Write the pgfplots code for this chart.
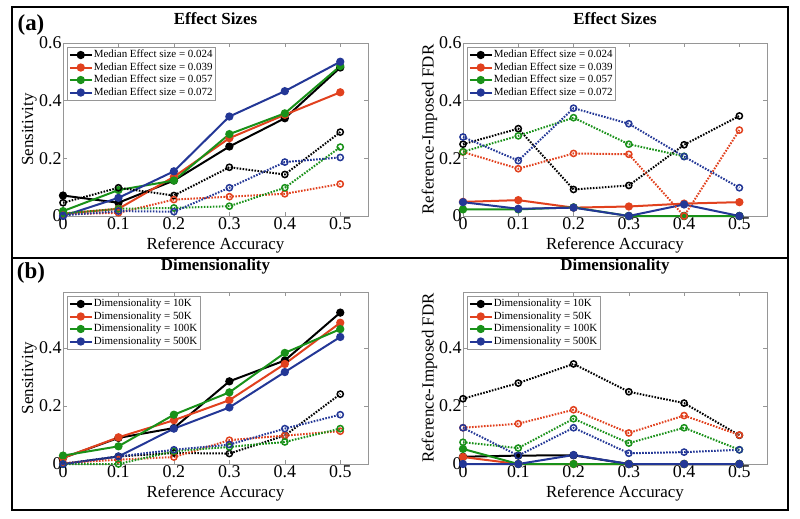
\documentclass[border=0pt]{standalone}
\usepackage{pgfplots}
\pgfplotsset{compat=1.18}
\usepackage{pgfplotstable}
\usepackage{fontspec}
\setmainfont{Liberation Serif}

\definecolor{mk}{RGB}{0,0,0}
\definecolor{mr}{RGB}{225,65,30}
\definecolor{mg}{RGB}{25,145,25}
\definecolor{mb}{RGB}{35,55,150}
\definecolor{axgray}{RGB}{150,150,150}

% columns: solid k r g b, dotted kd rd gd bd
\pgfplotstableread{
x   k     r     g     b     kd    rd    gd    bd
0   0.071 0.008 0.017 0.000 0.046 0.006 0.009 0.002
0.1 0.046 0.025 0.090 0.063 0.098 0.011 0.025 0.017
0.2 0.123 0.136 0.123 0.155 0.071 0.057 0.028 0.015
0.3 0.241 0.270 0.284 0.345 0.169 0.067 0.034 0.098
0.4 0.339 0.351 0.356 0.433 0.144 0.077 0.098 0.187
0.5 0.515 0.429 0.520 0.535 0.291 0.111 0.239 0.203
}\effsens

\pgfplotstableread{
x   k     r     g     b     kd    rd    gd    bd
0   nan   0.049 0.023 0.048 0.249 0.222 0.223 0.274
0.1 nan   0.055 0.023 0.025 0.303 0.164 0.278 0.192
0.2 nan   0.029 0.030 0.029 0.092 0.217 0.341 0.374
0.3 0     0.033 0     0     0.106 0.214 0.249 0.320
0.4 0     0.043 0     0.040 0.247 0     0.207 0.206
0.5 0     0.048 0     0     0.347 0.298 nan   0.098
}\efffdr

\pgfplotstableread{
x   k     r     g     b     kd    rd    gd    bd
0   0.021 0.021 0.029 0.000 0.000 0.003 0.000 0.000
0.1 0.090 0.092 0.061 0.026 0.026 0.015 0.000 0.026
0.2 0.124 0.151 0.170 0.122 0.038 0.024 0.044 0.049
0.3 0.285 0.220 0.247 0.195 0.036 0.082 0.059 0.067
0.4 0.357 0.345 0.383 0.317 0.098 0.098 0.076 0.122
0.5 0.522 0.487 0.465 0.438 0.241 0.113 0.122 0.170
}\dimsens

\pgfplotstableread{
x   k     r     g     b     kd    rd    gd    bd
0   0.025 0.024 0.052 0     0.225 0.125 0.075 0.125
0.1 0.029 0     0     0     0.279 0.139 0.055 0.029
0.2 0.030 0     0     0.031 0.345 0.187 0.156 0.125
0.3 0     0     0     0     0.249 0.107 0.072 0.037
0.4 0     0     0     0     0.210 0.167 0.125 0.041
0.5 0     0     0     0     0.099 0.100 0.049 0.049
}\dimfdr

\newcommand\txt{\fontsize{17}{20}\selectfont}
\newcommand\tck{\fontsize{18}{21}\selectfont}

\pgfplotsset{
  panel/.style={
    scale only axis, width=305bp, height=173bp,
    xmin=0, xmax=0.55, ymin=0, ymax=0.6,
    xtick={0,0.1,0.2,0.3,0.4,0.5},
    ytick={0,0.2,0.4,0.6},
    scaled ticks=false,
    tick align=inside, major tick length=4bp,
    axis line style={axgray, line width=0.6bp},
    tick style={axgray, line width=0.6bp},
    ticklabel style={font=\tck, black},
    /pgf/number format/assume math mode=true,
    xticklabel style={yshift=2bp},
    yticklabel style={xshift=2bp},
    clip=false,
    xlabel={Reference Accuracy},
    xlabel style={font=\txt, at={(axis description cs:0.5,-0.168)}, anchor=center},
    ylabel style={font=\txt, at={(axis description cs:-0.11,0.5)}, anchor=center},
    title style={font=\bfseries\txt, at={(axis description cs:0.5,1.104)}, anchor=center},
    legend cell align=left,
    legend style={draw=axgray, line width=0.6bp, fill=white,
      at={(axis description cs:0.013,0.977)}, anchor=north west,
      font=\fontsize{11}{12}\selectfont, inner sep=1.5bp,
      nodes={inner sep=1bp, text height=8bp, text depth=2.5bp}},
    legend image code/.code={\draw[mark repeat=2,mark phase=2,##1]
      plot coordinates {(0bp,0bp) (11bp,0bp) (22bp,0bp)};},
  },
  sline/.style={line width=2bp, mark=*, mark size=3.1bp, mark options={solid}},
  dline/.style={line width=2bp, dash pattern=on 1.6bp off 1.4bp, mark=o,
    mark size=3.1bp, mark options={solid, line width=1.5bp}},
}

\newcommand\allseries[1]{%
  \addplot[sline, color=mk] table[x=x, y=k]{#1};
  \addplot[sline, color=mr] table[x=x, y=r]{#1};
  \addplot[sline, color=mg] table[x=x, y=g]{#1};
  \addplot[sline, color=mb] table[x=x, y=b]{#1};
  \addplot[dline, color=mk, forget plot] table[x=x, y=kd]{#1};
  \addplot[dline, color=mr, forget plot] table[x=x, y=rd]{#1};
  \addplot[dline, color=mg, forget plot] table[x=x, y=gd]{#1};
  \addplot[dline, color=mb, forget plot] table[x=x, y=bd]{#1};
}

\begin{document}
\begin{tikzpicture}
\useasboundingbox (0,0) rectangle (800bp,-519bp);

\begin{axis}[panel, at={(63bp,-216bp)}, anchor=south west,
  title={Effect Sizes}, ylabel={Sensitivity},
  legend entries={Median Effect size = 0.024, Median Effect size = 0.039,
    Median Effect size = 0.057, Median Effect size = 0.072}]
\allseries{\effsens}
\end{axis}

\begin{axis}[panel, at={(463bp,-216bp)}, anchor=south west, width=304bp,
  title={Effect Sizes}, ylabel={Reference-Imposed FDR},
  legend entries={Median Effect size = 0.024, Median Effect size = 0.039,
    Median Effect size = 0.057, Median Effect size = 0.072}]
\allseries{\efffdr}
\end{axis}

\begin{axis}[panel, at={(63bp,-464bp)}, anchor=south west, height=172bp,
  ymax=0.593, ytick={0,0.2,0.4},
  title={Dimensionality}, ylabel={Sensitivity},
  title style={at={(axis description cs:0.5,1.116)}},
  legend entries={Dimensionality = 10K, Dimensionality = 50K,
    Dimensionality = 100K, Dimensionality = 500K}]
\allseries{\dimsens}
\end{axis}

\begin{axis}[panel, at={(463bp,-464bp)}, anchor=south west, height=172bp, width=304bp,
  ymax=0.593, ytick={0,0.2,0.4},
  title={Dimensionality}, ylabel={Reference-Imposed FDR},
  title style={at={(axis description cs:0.5,1.116)}},
  legend entries={Dimensionality = 10K, Dimensionality = 50K,
    Dimensionality = 100K, Dimensionality = 500K}]
\allseries{\dimfdr}
\end{axis}

\draw[line width=2.5bp] (12bp,-7bp) rectangle (788bp,-510bp);
\draw[line width=2.5bp] (12bp,-258bp) -- (788bp,-258bp);
\node[font=\bfseries\fontsize{23}{26}\selectfont] at (31bp,-25bp) {(a)};
\node[font=\bfseries\fontsize{23}{26}\selectfont] at (31bp,-273bp) {(b)};
\end{tikzpicture}
\end{document}
